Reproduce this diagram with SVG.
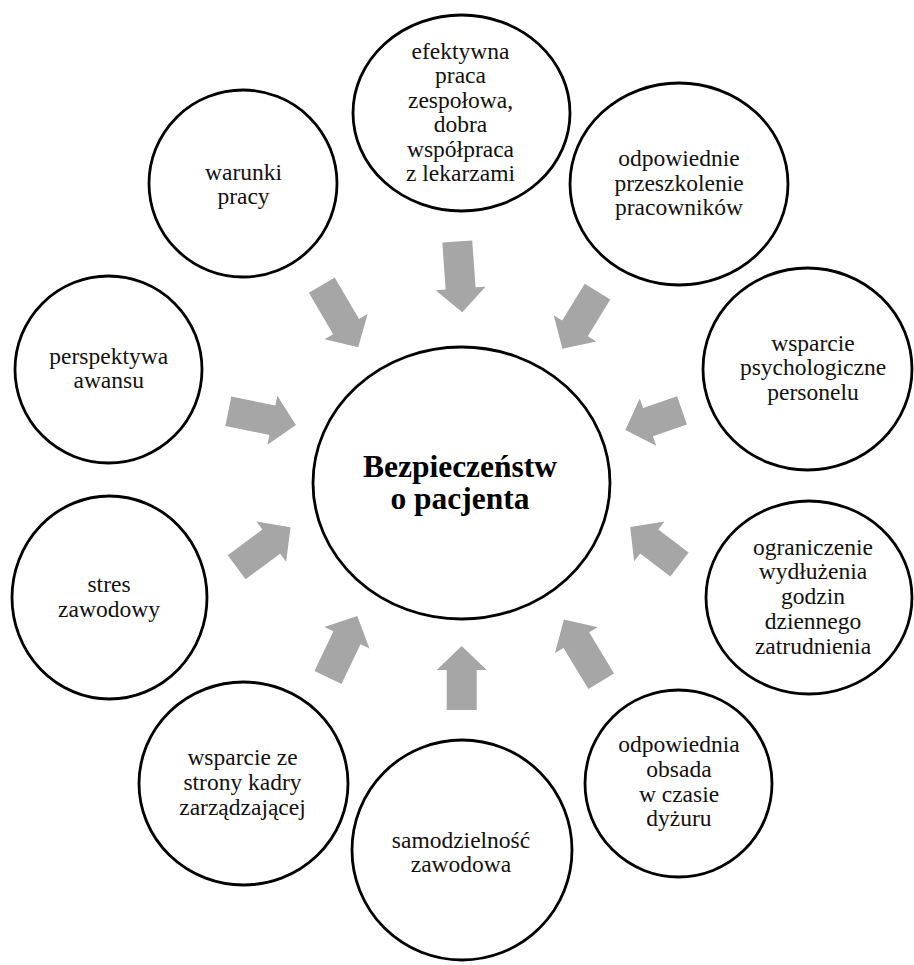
<svg xmlns="http://www.w3.org/2000/svg" width="914" height="965" viewBox="0 0 914 965">
<style>
.n{fill:#fff;stroke:#000;stroke-width:2.8}
.t{font-family:'Liberation Serif','Times New Roman',Tinos,'DejaVu Serif',serif;font-size:23.5px;font-weight:normal;font-style:normal;fill:#111;text-anchor:middle}
.b{font-family:'Liberation Serif','Times New Roman',Tinos,'DejaVu Serif',serif;font-size:31.5px;font-weight:bold;fill:#000;text-anchor:middle}
.a{fill:#A6A6A6}
</style>
<rect width="914" height="965" fill="#fff"/>
<g id="connectors">
<polygon class="a" transform="translate(457.3,241.5) rotate(86)" points="0,-15 47,-15 47,-25 71,0 47,25 47,15 0,15"/>
<polygon class="a" transform="translate(321.8,285.2) rotate(59.6)" points="0,-15 48,-15 48,-25 72,0 48,25 48,15 0,15"/>
<polygon class="a" transform="translate(597.5,291.7) rotate(121.6)" points="0,-15 43,-15 43,-25 67,0 43,25 43,15 0,15"/>
<polygon class="a" transform="translate(228.3,411.3) rotate(11.4)" points="0,-15 45,-15 45,-25 69,0 45,25 45,15 0,15"/>
<polygon class="a" transform="translate(682,410.3) rotate(160.8)" points="0,-15 36,-15 36,-25 60,0 36,25 36,15 0,15"/>
<polygon class="a" transform="translate(679.5,564.5) rotate(217.3)" points="0,-15 38,-15 38,-25 62,0 38,25 38,15 0,15"/>
<polygon class="a" transform="translate(601.2,681.2) rotate(238.8)" points="0,-15 48,-15 48,-25 72,0 48,25 48,15 0,15"/>
<polygon class="a" transform="translate(461.7,710) rotate(270)" points="0,-15 40,-15 40,-25 64,0 40,25 40,15 0,15"/>
<polygon class="a" transform="translate(328,677.5) rotate(295.5)" points="0,-15 44,-15 44,-25 68,0 44,25 44,15 0,15"/>
<polygon class="a" transform="translate(236.7,567.2) rotate(323.5)" points="0,-15 43,-15 43,-25 67,0 43,25 43,15 0,15"/>
</g>
<g id="center">
<ellipse class="n" cx="461.5" cy="483" rx="148.5" ry="136"/>
<text class="b" x="460" y="477">Bezpieczeństw</text>
<text class="b" x="460" y="509">o pacjenta</text>
</g>
<g id="n1">
<ellipse class="n" cx="461.5" cy="113" rx="108.5" ry="98"/>
<text class="t" x="460.5" y="59">efektywna</text>
<text class="t" x="460.5" y="83.3">praca</text>
<text class="t" x="460.5" y="107.5">zespołowa,</text>
<text class="t" x="460.5" y="131.8">dobra</text>
<text class="t" x="460.5" y="156.5">współpraca</text>
<text class="t" x="460.5" y="181">z lekarzami</text>
</g>
<g id="n2">
<ellipse class="n" cx="243" cy="183.5" rx="94" ry="93.5"/>
<text class="t" x="243.5" y="180">warunki</text>
<text class="t" x="243.5" y="204">pracy</text>
</g>
<g id="n3">
<ellipse class="n" cx="679" cy="184" rx="109" ry="101"/>
<text class="t" x="679" y="166">odpowiednie</text>
<text class="t" x="679" y="191">przeszkolenie</text>
<text class="t" x="679" y="215">pracowników</text>
</g>
<g id="n4">
<ellipse class="n" cx="108.5" cy="369.5" rx="93.5" ry="93.5"/>
<text class="t" x="108.7" y="364">perspektywa</text>
<text class="t" x="108.7" y="388">awansu</text>
</g>
<g id="n5">
<ellipse class="n" cx="807.5" cy="369" rx="104.5" ry="101"/>
<text class="t" x="813" y="351">wsparcie</text>
<text class="t" x="813" y="375">psychologiczne</text>
<text class="t" x="813" y="400">personelu</text>
</g>
<g id="n6">
<ellipse class="n" cx="109.5" cy="597.5" rx="97.5" ry="101.5"/>
<text class="t" x="109" y="592">stres</text>
<text class="t" x="109" y="617">zawodowy</text>
</g>
<g id="n7">
<ellipse class="n" cx="809" cy="597.5" rx="103" ry="96.5"/>
<text class="t" x="813" y="555">ograniczenie</text>
<text class="t" x="813" y="579">wydłużenia</text>
<text class="t" x="813" y="604">godzin</text>
<text class="t" x="813" y="629">dziennego</text>
<text class="t" x="813" y="654">zatrudnienia</text>
</g>
<g id="n8">
<ellipse class="n" cx="243.5" cy="783.5" rx="104.5" ry="101.5"/>
<text class="t" x="242.5" y="765">wsparcie ze</text>
<text class="t" x="242.5" y="790">strony kadry</text>
<text class="t" x="242.5" y="815">zarządzającej</text>
</g>
<g id="n9">
<ellipse class="n" cx="462" cy="850" rx="110" ry="110"/>
<text class="t" x="461" y="848">samodzielność</text>
<text class="t" x="461" y="872">zawodowa</text>
</g>
<g id="n10">
<ellipse class="n" cx="678.5" cy="783.5" rx="93.5" ry="93.5"/>
<text class="t" x="679" y="752">odpowiednia</text>
<text class="t" x="679" y="777">obsada</text>
<text class="t" x="679" y="802">w czasie</text>
<text class="t" x="679" y="826">dyżuru</text>
</g>
</svg>
